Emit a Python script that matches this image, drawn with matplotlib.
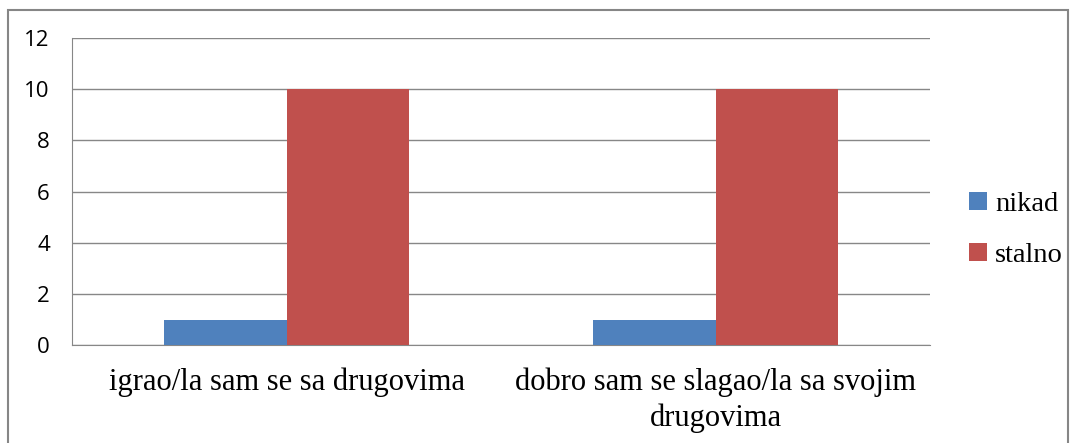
import matplotlib.pyplot as plt
from matplotlib.patches import Rectangle
import numpy as np

categories = ["igrao/la sam se sa drugovima", "dobro sam se slagao/la sa svojim\ndrugovima"]
nikad = [1, 1]
stalno = [10, 10]
yticks = [0, 2, 4, 6, 8, 10, 12]

blue = "#4F81BD"
red = "#C0504D"
grid = "#878787"

fig = plt.figure(figsize=(10.76, 4.43), dpi=100)
ax = fig.add_axes([0.0669, 0.221, 0.7975, 0.693])

x = np.arange(len(categories))
w = 0.285
ax.bar(x - w / 2, nikad, w, color=blue, label="nikad", zorder=3)
ax.bar(x + w / 2, stalno, w, color=red, label="stalno", zorder=3)

ax.set_xlim(-0.5, 1.5)
ax.set_ylim(0, 12)
ax.set_yticks(yticks)
ax.set_yticklabels([str(t) for t in yticks], fontsize=16, family="Open Sans")
ax.tick_params(axis="y", length=0, pad=16)
ax.set_xticks(x)
ax.set_xticklabels(categories, fontsize=22, family="Liberation Serif", linespacing=1.3)
ax.tick_params(axis="x", length=0, pad=16)

ax.grid(axis="y", color=grid, linewidth=1, zorder=0)
for s in ["top", "right"]:
    ax.spines[s].set_visible(False)
ax.spines["left"].set_color(grid)
ax.spines["bottom"].set_color(grid)

leg = ax.legend(loc="center left", bbox_to_anchor=(1.016, 0.375), frameon=False,
                prop={"family": "Liberation Serif", "size": 20.5},
                handlelength=0.6, handleheight=0.6, handletextpad=0.3, labelspacing=0.9)

fig.patches.append(Rectangle((8 / 1076, -0.05), 1060 / 1076, 1.05 - 10 / 443,
                             transform=fig.transFigure, fill=False,
                             edgecolor="#868686", linewidth=1.5))

fig.savefig("out.png", dpi=100)
